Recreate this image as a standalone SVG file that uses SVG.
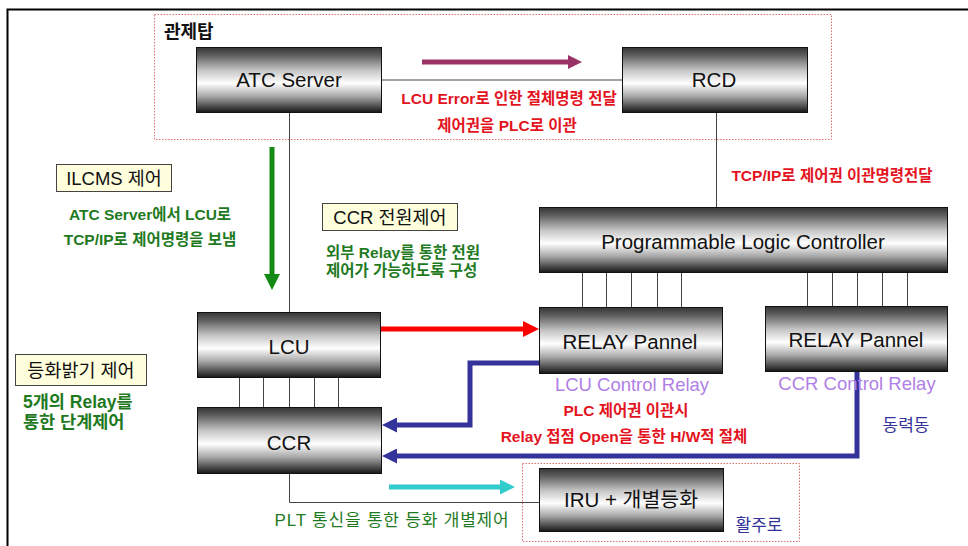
<svg xmlns="http://www.w3.org/2000/svg" width="968" height="546" viewBox="0 0 968 546">
  <defs>
    <linearGradient id="metal" x1="0" y1="0" x2="0" y2="1">
      <stop offset="0" stop-color="#353535"/>
      <stop offset="0.12" stop-color="#5e5e5e"/>
      <stop offset="0.35" stop-color="#c4c4c4"/>
      <stop offset="0.55" stop-color="#ffffff"/>
      <stop offset="0.75" stop-color="#a8a8a8"/>
      <stop offset="1" stop-color="#161616"/>
    </linearGradient>
    <marker id="ah-purple" viewBox="0 0 10 10" refX="0" refY="5" markerWidth="14" markerHeight="14" markerUnits="userSpaceOnUse" orient="auto">
      <path d="M0,0 L10,5 L0,10 z" fill="#993366"/>
    </marker>
    <marker id="ah-green" viewBox="0 0 10 10" refX="0" refY="5" markerWidth="16" markerHeight="16" markerUnits="userSpaceOnUse" orient="auto">
      <path d="M0,0 L10,5 L0,10 z" fill="#138a13"/>
    </marker>
    <marker id="ah-red" viewBox="0 0 10 10" refX="0" refY="5" markerWidth="16" markerHeight="16" markerUnits="userSpaceOnUse" orient="auto">
      <path d="M0,0 L10,5 L0,10 z" fill="#ff0000"/>
    </marker>
    <marker id="ah-blue" viewBox="0 0 10 10" refX="0" refY="5" markerWidth="15" markerHeight="15" markerUnits="userSpaceOnUse" orient="auto">
      <path d="M0,0 L10,5 L0,10 z" fill="#333399"/>
    </marker>
    <marker id="ah-cyan" viewBox="0 0 10 10" refX="0" refY="5" markerWidth="15" markerHeight="15" markerUnits="userSpaceOnUse" orient="auto">
      <path d="M0,0 L10,5 L0,10 z" fill="#33cccc"/>
    </marker>
  </defs>
  <style>
    text { font-family: "Liberation Sans", "Noto Sans CJK KR", sans-serif; }
    .box { fill: url(#metal); stroke: #111; stroke-width: 1; }
    .name { font-size: 20.5px; fill: #111; text-anchor: middle; }
    .tag { fill: #ffffdd; stroke: #444; stroke-width: 1; }
    .tagtxt { font-size: 18.5px; fill: #111; text-anchor: middle; }
    .red { font-size: 15.5px; font-weight: bold; fill: #e3141e; text-anchor: middle; }
    .green { font-size: 15.5px; font-weight: bold; fill: #1f7a1f; }
    .mid { text-anchor: middle; }
    .lav { font-size: 18.5px; fill: #b080e6; text-anchor: middle; }
    .navy { font-size: 17px; fill: #333399; text-anchor: middle; }
    .zone { fill: none; stroke: #e07070; stroke-width: 1; stroke-dasharray: 1.5 1.5; }
    .wire { fill: none; stroke: #444; stroke-width: 1; }
    .fat { fill: none; stroke-width: 5; }
  </style>

  <rect width="968" height="546" fill="#ffffff"/>
  <!-- outer frame (top and left edges) -->
  <path d="M7.5,546 V9.5 H968" fill="none" stroke="#000" stroke-width="2"/>

  <!-- zones -->
  <g id="zone-tower">
    <rect class="zone" x="154.5" y="14.5" width="677" height="125"/>
    <text x="164" y="38" font-size="18" font-weight="bold" fill="#111">관제탑</text>
  </g>
  <g id="zone-runway">
    <rect class="zone" x="522.5" y="463.5" width="277" height="78"/>
    <text class="navy" x="759" y="531">활주로</text>
  </g>

  <!-- connectors -->
  <g id="connectors">
    <path class="wire" d="M382,80 H622"/>
    <path class="wire" d="M289.5,113 V312"/>
    <path class="wire" d="M716.5,113 V207"/>
    <path class="wire" d="M582.5,273 V307 M606.5,273 V307 M631.5,273 V307 M657.5,273 V307 M681.5,273 V307"/>
    <path class="wire" d="M807.5,273 V306 M832.5,273 V306 M857.5,273 V306 M882.5,273 V306 M907.5,273 V306"/>
    <path class="wire" d="M239.5,378 V407 M263.5,378 V407 M289.5,378 V407 M314.5,378 V407 M338.5,378 V407"/>
    <path class="wire" d="M289.5,474 V502.5 H539"/>

    <path class="fat" stroke="#993366" d="M422,62 H568" marker-end="url(#ah-purple)"/>
    <path class="fat" stroke="#138a13" stroke-width="6" d="M272,147 V274" marker-end="url(#ah-green)"/>
    <path class="fat" stroke="#ff0000" d="M381,329 H523" marker-end="url(#ah-red)"/>
    <path class="fat" stroke="#333399" d="M539,363 H470 V425 H397" marker-end="url(#ah-blue)"/>
    <path class="fat" stroke="#333399" d="M857,372 V456 H397" marker-end="url(#ah-blue)"/>
    <path class="fat" stroke="#33cccc" d="M389,487 H500" marker-end="url(#ah-cyan)"/>
  </g>

  <!-- nodes -->
  <g id="atc-server">
    <rect class="box" x="196.5" y="47.5" width="185" height="65"/>
    <text class="name" x="289" y="87">ATC Server</text>
  </g>
  <g id="rcd">
    <rect class="box" x="622.5" y="47.5" width="185" height="65"/>
    <text class="name" x="714" y="87">RCD</text>
  </g>
  <g id="plc">
    <rect class="box" x="539.5" y="207.5" width="408" height="65"/>
    <text class="name" x="743" y="249" font-size="21.5">Programmable Logic Controller</text>
  </g>
  <g id="relay-lcu">
    <rect class="box" x="539.5" y="307.5" width="183" height="66"/>
    <text class="name" x="630" y="349">RELAY Pannel</text>
    <text class="lav" x="632" y="391">LCU Control Relay</text>
  </g>
  <g id="relay-ccr">
    <rect class="box" x="765.5" y="306.5" width="182" height="65"/>
    <text class="name" x="856" y="347">RELAY Pannel</text>
    <text class="lav" x="857" y="390">CCR Control Relay</text>
  </g>
  <g id="lcu">
    <rect class="box" x="197.5" y="312.5" width="183" height="65"/>
    <text class="name" x="289" y="354">LCU</text>
  </g>
  <g id="ccr">
    <rect class="box" x="197.5" y="407.5" width="184" height="66"/>
    <text class="name" x="289" y="450">CCR</text>
  </g>
  <g id="iru">
    <rect class="box" x="539.5" y="468.5" width="184" height="63"/>
    <text class="name" x="631" y="507">IRU + 개별등화</text>
  </g>

  <!-- labels -->
  <g id="label-ilcms">
    <rect class="tag" x="56.5" y="164.5" width="115" height="27"/>
    <text class="tagtxt" x="114" y="185">ILCMS 제어</text>
    <text class="green mid" x="150" y="220">ATC Server에서 LCU로</text>
    <text class="green mid" x="150" y="245">TCP/IP로 제어명령을 보냄</text>
  </g>
  <g id="label-ccr-power">
    <rect class="tag" x="322.5" y="203.5" width="135" height="27"/>
    <text class="tagtxt" x="390" y="224">CCR 전원제어</text>
    <text class="green" x="326" y="258">외부 Relay를 통한 전원</text>
    <text class="green" x="326" y="276">제어가 가능하도록 구성</text>
  </g>
  <g id="label-dimming">
    <rect class="tag" x="15.5" y="354.5" width="131" height="31"/>
    <text class="tagtxt" x="81" y="377">등화밝기 제어</text>
    <text class="green" x="23" y="408" style="font-size: 17.5px">5개의 Relay를</text>
    <text class="green" x="23" y="428" style="font-size: 17.5px">통한 단계제어</text>
  </g>
  <g id="notes">
    <text class="red" x="509" y="104">LCU Error로 인한 절체명령 전달</text>
    <text class="red" x="507" y="131">제어권을 PLC로 이관</text>
    <text class="red" x="832" y="181">TCP/IP로 제어권 이관명령전달</text>
    <text class="red" x="626" y="416">PLC 제어권 이관시</text>
    <text class="red" x="624" y="442">Relay 접점 Open을 통한 H/W적 절체</text>
    <text class="navy" x="906" y="431">동력동</text>
    <text class="green mid" x="392" y="526" style="font-weight: normal; font-size: 17px; letter-spacing: 0.8px">PLT 통신을 통한 등화 개별제어</text>
  </g>
</svg>
